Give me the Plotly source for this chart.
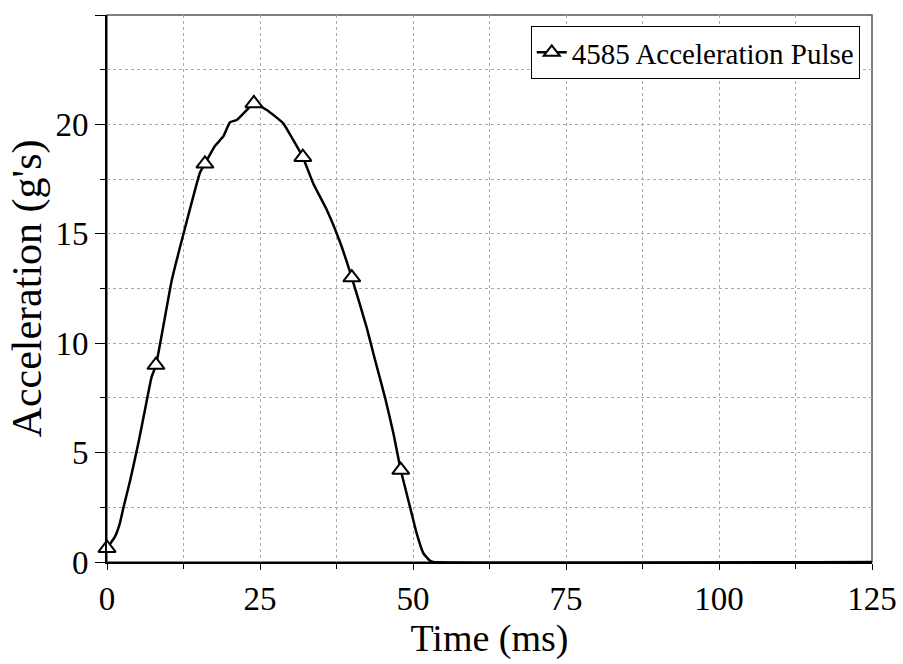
import plotly.graph_objects as go

time_ms = [0, 1.3, 2.1, 2.7, 3.8, 5.1, 6.2, 7.3, 8, 10.6, 12.5, 15.2, 16, 17.6, 19.0, 20.1, 21.2,
           22.3, 24, 26.1, 28.8, 30.4, 32, 33.7, 35.9, 38.1, 40, 42.4, 43.8, 45.4, 46.8, 48, 49.5,
           50.6, 51.7, 52.8, 53.3, 125]
accel_g = [0.63, 1.16, 1.77, 2.5, 3.75, 5.4, 6.95, 8.47, 9.0, 12.9, 15.0, 17.8, 18.2, 19.0, 19.45,
           20.1, 20.2, 20.5, 20.96, 20.66, 20.05, 19.3, 18.5, 17.3, 16.1, 14.6, 13.0, 10.75, 9.23,
           7.55, 5.88, 4.2, 2.53, 1.31, 0.4, 0.05, 0, 0]
marker_t = [0, 8, 16, 24, 32, 40, 48]
marker_g = [0.63, 9.0, 18.2, 20.96, 18.5, 13.0, 4.2]
series_name = "4585 Acceleration Pulse"

FONT = "Liberation Serif"

fig = go.Figure()
fig.add_trace(go.Scatter(x=time_ms, y=accel_g, mode="lines",
                         line=dict(color="black", width=2.5, shape="spline", smoothing=0.4),
                         showlegend=False, cliponaxis=False))
fig.add_trace(go.Scatter(x=marker_t, y=marker_g, mode="markers",
                         marker=dict(symbol="triangle-up", size=15, color="white",
                                     line=dict(color="black", width=2)),
                         showlegend=False, cliponaxis=False))
fig.add_trace(go.Scatter(x=[None], y=[None], mode="lines+markers", name=series_name,
                         line=dict(color="black", width=2.5),
                         marker=dict(symbol="triangle-up", size=14, color="white",
                                     line=dict(color="black", width=2))))

grid = dict(showgrid=True, gridcolor="#aaaaaa", griddash="dot", gridwidth=1)
fig.update_layout(
    width=903, height=664,
    margin=dict(l=107, r=31, t=15, b=102),
    paper_bgcolor="white", plot_bgcolor="white",
    font=dict(family=FONT, color="black"),
    showlegend=True,
    legend=dict(x=0.984, y=0.98, xanchor="right", yanchor="top",
                bordercolor="black", borderwidth=1, bgcolor="white",
                font=dict(size=29, family=FONT)),
    xaxis=dict(range=[0, 125], dtick=25, tick0=0, ticks="outside", ticklen=6, tickcolor="black",
               showline=True, linecolor="black", linewidth=2, zeroline=False, automargin=False,
               tickfont=dict(size=33, family=FONT),
               title=dict(text="Time (ms)", font=dict(size=38, family=FONT), standoff=7),
               minor=dict(dtick=12.5, ticks="outside", ticklen=5, tickcolor="black", **grid),
               **grid),
    yaxis=dict(range=[0, 25], dtick=5, tick0=0, ticks="outside", ticklen=10, tickcolor="black",
               showline=True, linecolor="black", linewidth=2, zeroline=False, automargin=False,
               tickfont=dict(size=33, family=FONT),
               title=dict(text="Acceleration (g's)", font=dict(size=42, family=FONT), standoff=1),
               minor=dict(dtick=2.5, ticks="outside", ticklen=5, tickcolor="black", **grid),
               **grid),
    shapes=[dict(type="rect", xref="paper", yref="paper", x0=0, y0=0, x1=1, y1=1,
                 line=dict(color="#555555", width=1.5), layer="below")],
)

fig.write_html("out.html")
